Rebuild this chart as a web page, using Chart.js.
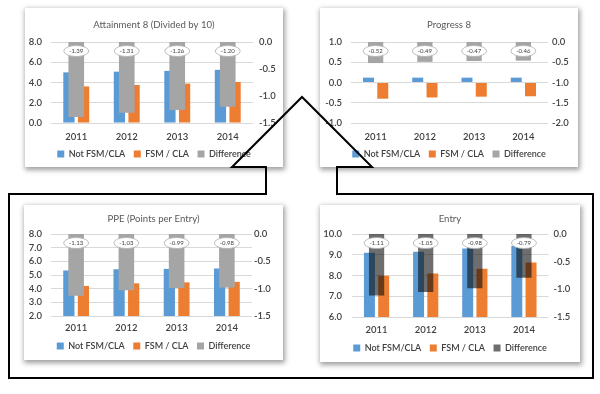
<!DOCTYPE html>
<html><head><meta charset="utf-8">
<script src="https://cdn.jsdelivr.net/npm/chart.js@4.4.1/dist/chart.umd.min.js"></script>
<style>
html,body{margin:0;padding:0;background:#fff;width:600px;height:394px;overflow:hidden;}
body{position:relative;}
.card{position:absolute;background:#fff;box-shadow:1px 2px 5px 1px rgba(0,0,0,0.38);}
.card canvas{position:absolute;left:0;top:0;}
#outline{position:absolute;left:0;top:0;pointer-events:none;}
</style></head><body>
<div id="p1" class="card"><canvas></canvas></div>
<div id="p2" class="card"><canvas></canvas></div>
<div id="p3" class="card"><canvas></canvas></div>
<div id="p4" class="card"><canvas></canvas></div>
<svg id="outline" width="600" height="394"><polygon points="9,194 266,194 266,167 232,167 302,97 372,167 337,167 337,194 593,194 593,378 9,378" fill="none" stroke="#000" stroke-width="2"/></svg>
<script>
// ---- data ----
const years = ['2011', '2012', '2013', '2014'];
const seriesNames = ['Not FSM/CLA', 'FSM / CLA', 'Difference'];
const titles = ['Attainment 8 (Divided by 10)', 'Progress 8', 'PPE (Points per Entry)', 'Entry'];

const att8NotFsm = [5.00, 5.07, 5.15, 5.25];
const att8Fsm    = [3.61, 3.76, 3.89, 4.05];
const att8Diff   = [-1.39, -1.31, -1.26, -1.20];

const p8NotFsm = [0.12, 0.12, 0.12, 0.12];
const p8Fsm    = [-0.40, -0.37, -0.35, -0.34];
const p8Diff   = [-0.52, -0.49, -0.47, -0.46];

const ppeNotFsm = [5.33, 5.42, 5.45, 5.48];
const ppeFsm    = [4.20, 4.39, 4.46, 4.50];
const ppeDiff   = [-1.13, -1.03, -0.99, -0.98];

const entryNotFsm = [9.10, 9.15, 9.30, 9.42];
const entryFsm    = [7.99, 8.10, 8.32, 8.63];
const entryDiff   = [-1.11, -1.05, -0.98, -0.79];

// axis ranges [min, max, step]
const att8LeftAxis  = [0, 8, 2];
const att8RightAxis = [-1.5, 0, 0.5];
const p8LeftAxis    = [-1, 1, 0.5];
const p8RightAxis   = [-2, 0, 0.5];
const ppeLeftAxis   = [2, 8, 1];
const ppeRightAxis  = [-1.5, 0, 0.5];
const entryLeftAxis = [6, 10, 1];
const entryRightAxis= [-1.5, 0, 0.5];

// ---- styles / layout ----
const FONT = "Lato, 'Liberation Sans', sans-serif";
const TXT = '#595959', TICK_TXT = '#404040';
const BLUE = '#5B9BD5', ORANGE = '#ED7D31', GREY = '#A5A5A5', DARK = 'rgba(13,13,13,0.6)';
const TITLE_SIZE = 9.6, TICK_SIZE = 9.5, LEG_SIZE = 9, LEG_PAD = 8.5, LEG_H = 20;

Chart.defaults.font.family = FONT;
Chart.defaults.color = TXT;

const diffLabels = {
  id: 'diffLabels',
  afterDatasetsDraw(chart) {
    const ctx = chart.ctx;
    chart.data.datasets.forEach((ds, i) => {
      if (!ds.isDiff) return;
      const meta = chart.getDatasetMeta(i);
      meta.data.forEach((bar, j) => {
        const cx = bar.x, cy = bar.base + 9;
        ctx.save();
        ctx.beginPath();
        ctx.ellipse(cx, cy, 12.5, 5.5, 0, 0, Math.PI * 2);
        ctx.fillStyle = '#fff';
        ctx.fill();
        ctx.lineWidth = 0.8;
        ctx.strokeStyle = '#b0b0b0';
        ctx.stroke();
        ctx.fillStyle = '#404040';
        ctx.font = '6px ' + FONT;
        ctx.textAlign = 'center';
        ctx.textBaseline = 'middle';
        ctx.fillText(ds.data[j].toFixed(2), cx, cy + 0.5);
        ctx.restore();
      });
    });
  }
};

function makeChart(id, L, title, a, b, d, leftAxis, rightAxis, diffColor) {
  const card = document.getElementById(id);
  Object.assign(card.style, {left: L.x + 'px', top: L.y + 'px', width: L.w + 'px', height: L.h + 'px'});
  const canvas = card.querySelector('canvas');
  const ch = L.h;
  canvas.width = L.w; canvas.height = ch;
  canvas.style.width = L.w + 'px'; canvas.style.height = ch + 'px';
  const lineT = TITLE_SIZE * 1.2;
  const legendTop = L.legendY - LEG_PAD - LEG_SIZE / 2;
  const xH = ch - L.bottom - LEG_H;
  const xPad = L.xLabelY - L.bottom - TICK_SIZE * 1.2 / 2;

  const legendFix = {
    id: 'legendFix',
    beforeLayout(chart) {
      const lg = chart.legend;
      if (lg && !lg._fixed) {
        const f = lg.fit;
        lg.fit = function () { f.call(this); this.height = LEG_H; };
        lg._fixed = true;
      }
    },
    afterLayout(chart) {
      const lg = chart.legend;
      if (lg) { lg.top = legendTop; lg.bottom = legendTop + lg.height; }
    }
  };

  return new Chart(canvas, {
    type: 'bar',
    data: {
      labels: years,
      datasets: [
        {label: seriesNames[0], data: a, backgroundColor: BLUE, yAxisID: 'y', categoryPercentage: 0.58, barPercentage: 0.77},
        {label: seriesNames[1], data: b, backgroundColor: ORANGE, yAxisID: 'y', categoryPercentage: 0.58, barPercentage: 0.77},
        {label: seriesNames[2], data: d, backgroundColor: diffColor, yAxisID: 'y2', grouped: false, order: -1,
         categoryPercentage: 1, barPercentage: 0.31, isDiff: true}
      ]
    },
    options: {
      responsive: false,
      animation: false,
      devicePixelRatio: 1,
      layout: {padding: 0},
      plugins: {
        tooltip: {enabled: false},
        title: {display: true, text: title, color: TXT,
          font: {size: TITLE_SIZE, weight: 'normal', family: FONT},
          padding: {top: L.titleY - lineT / 2, bottom: L.top - L.titleY - lineT / 2}},
        legend: {position: 'bottom',
          labels: {boxWidth: 7, boxHeight: 7, padding: LEG_PAD, color: TICK_TXT,
            font: {size: LEG_SIZE, weight: '600', family: FONT},
            sort: (p, q) => p.datasetIndex - q.datasetIndex}}
      },
      scales: {
        x: {grid: {display: false, drawTicks: false}, border: {display: false},
          ticks: {padding: xPad, color: TICK_TXT, font: {size: TICK_SIZE, weight: '600'}},
          afterFit(s) { s.height = xH; }},
        y: {position: 'left', min: leftAxis[0], max: leftAxis[1],
          grid: {color: '#d9d9d9', drawTicks: false, lineWidth: 1}, border: {display: false},
          ticks: {stepSize: leftAxis[2], autoSkip: false, padding: L.lPad, color: TICK_TXT, font: {size: TICK_SIZE, weight: '600'},
            callback: v => Number(v).toFixed(1)},
          afterFit(s) { s.width = L.left; }},
        y2: {position: 'right', min: rightAxis[0], max: rightAxis[1],
          grid: {display: false, drawTicks: false}, border: {display: false},
          ticks: {stepSize: rightAxis[2], autoSkip: false, padding: L.rPad, color: TICK_TXT,
            font: {size: TICK_SIZE, weight: '600'}, callback: v => Number(v).toFixed(1)},
          afterFit(s) { s.width = L.w - L.right; }}
      }
    },
    plugins: [legendFix, diffLabels]
  });
}

const P1 = {x: 25, y: 8, w: 258, h: 159, left: 26, right: 228, top: 34, bottom: 115, titleY: 17, xLabelY: 129, legendY: 146, lPad: 9, rPad: 6};
const P2 = {x: 320, y: 8, w: 258, h: 159, left: 31, right: 228, top: 34, bottom: 115, titleY: 17, xLabelY: 129, legendY: 146, lPad: 9, rPad: 4};
const P3 = {x: 24, y: 205, w: 259, h: 155, left: 27, right: 228, top: 29, bottom: 111, titleY: 14, xLabelY: 123, legendY: 141, lPad: 9, rPad: 2};
const P4 = {x: 320, y: 205, w: 260, h: 157, left: 32, right: 228.5, top: 29, bottom: 112, titleY: 14, xLabelY: 125, legendY: 143, lPad: 10, rPad: 5};

makeChart('p1', P1, titles[0], att8NotFsm, att8Fsm, att8Diff, att8LeftAxis, att8RightAxis, GREY);
makeChart('p2', P2, titles[1], p8NotFsm, p8Fsm, p8Diff, p8LeftAxis, p8RightAxis, GREY);
makeChart('p3', P3, titles[2], ppeNotFsm, ppeFsm, ppeDiff, ppeLeftAxis, ppeRightAxis, GREY);
makeChart('p4', P4, titles[3], entryNotFsm, entryFsm, entryDiff, entryLeftAxis, entryRightAxis, DARK);
</script>
</body></html>
